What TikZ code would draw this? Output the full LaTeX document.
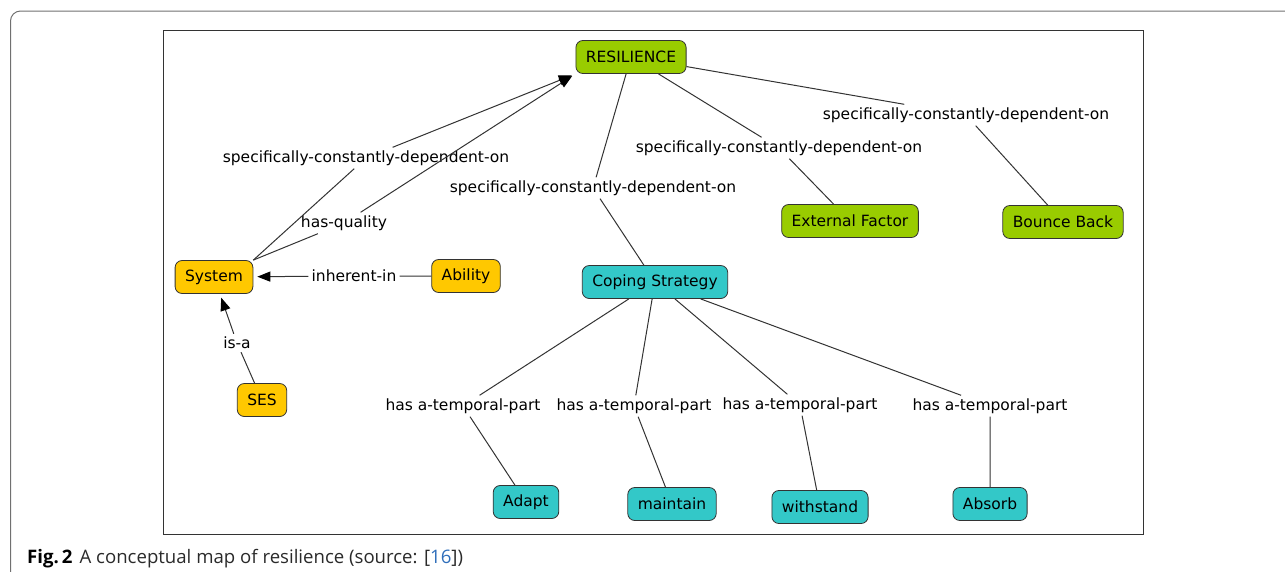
\documentclass[tikz,border=0pt]{standalone}
\usepackage{fontspec}
\setmainfont{DejaVu Sans}
\newfontfamily\capfont{Open Sans}
\usetikzlibrary{arrows.meta}
\definecolor{resgreen}{HTML}{99CC00}
\definecolor{sysyellow}{HTML}{FFC800}
\definecolor{copeteal}{HTML}{33C8C8}
\definecolor{edgegray}{HTML}{333333}
\definecolor{framegray}{HTML}{707070}
\definecolor{citeblue}{HTML}{2F6EBA}
\definecolor{captext}{HTML}{2A2A2A}
\begin{document}
\begin{tikzpicture}[x=1pt,y=-1pt,
    concept/.style={draw=edgegray,line width=0.8pt,rounded corners=7pt,inner xsep=10pt,minimum height=33pt,font=\fontsize{15.5}{18}\selectfont},
    rel/.style={inner sep=3pt,font=\fontsize{15.5}{18}\selectfont},
    link/.style={draw=edgegray,line width=1pt},
    arrowto/.style={-{Triangle[length=13pt,width=10pt,color=black]},shorten >=4pt}]
  \useasboundingbox (0,0) rectangle (1285,571);
  % frames
  \draw[framegray,line width=1pt,rounded corners=10pt] (10.5,600) -- (10.5,11) -- (1300,11);
  \draw[edgegray,line width=0.8pt] (163,30) rectangle (1143,534);
  % concepts
  \node[concept,fill=resgreen] (res) at (631,57) {RESILIENCE};
  \node[concept,fill=sysyellow] (sys) at (214,277) {System};
  \node[concept,fill=sysyellow] (abil) at (466,276) {Ability};
  \node[concept,fill=sysyellow] (ses) at (262,400) {SES};
  \node[concept,fill=copeteal] (cope) at (655,282) {Coping Strategy};
  \node[concept,fill=resgreen] (ext) at (850,221) {External Factor};
  \node[concept,fill=resgreen] (bounce) at (1063,222) {Bounce Back};
  \node[concept,fill=copeteal] (adapt) at (526,502) {Adapt};
  \node[concept,fill=copeteal] (maint) at (672,504) {maintain};
  \node[concept,fill=copeteal] (withst) at (820,507) {withstand};
  \node[concept,fill=copeteal] (absorb) at (990,504) {Absorb};
  % linking phrases
  \node[rel] (scdSys) at (366,158) {specifically-constantly-dependent-on};
  \node[rel] (hasq) at (344,223) {has-quality};
  \node[rel] (inh) at (354,276) {inherent-in};
  \node[rel] (isa) at (237,343) {is-a};
  \node[rel] (scdCope) at (593,188) {specifically-constantly-dependent-on};
  \node[rel] (scdExt) at (779,148) {specifically-constantly-dependent-on};
  \node[rel] (scdBounce) at (966,115) {specifically-constantly-dependent-on};
  \node[rel] (tpAdapt) at (463,406) {has a-temporal-part};
  \node[rel] (tpMaint) at (634,406) {has a-temporal-part};
  \node[rel] (tpWith) at (800,405) {has a-temporal-part};
  \node[rel] (tpAbs) at (990,406) {has a-temporal-part};
  % connectors
  \draw[link,arrowto] (sys.north east) -- (scdSys) -- (res.south west);
  \draw[link,arrowto] (sys.north east) -- (hasq) -- (res.south west);
  \draw[link,arrowto] (abil) -- (inh) -- (sys);
  \draw[link,arrowto] (ses) -- (isa) -- (sys);
  \draw[link] (res) -- (scdCope) -- (cope);
  \draw[link] (res) -- (scdExt) -- (ext);
  \draw[link] (res) -- (scdBounce) -- (bounce);
  \draw[link] (cope) -- (tpAdapt) -- (adapt);
  \draw[link] (cope) -- (tpMaint) -- (maint);
  \draw[link] (cope) -- (tpWith) -- (withst);
  \draw[link] (cope) -- (tpAbs) -- (absorb);
  % caption
  \node[anchor=base west,inner sep=0pt,font=\capfont\fontsize{18.6}{21}\selectfont] (cap) at (27,563)
    {\textbf{Fig.\,2}\hspace{7pt}\textcolor{captext}{A conceptual map of resilience (source: [\textcolor{citeblue}{16}])}};
\end{tikzpicture}
\end{document}
